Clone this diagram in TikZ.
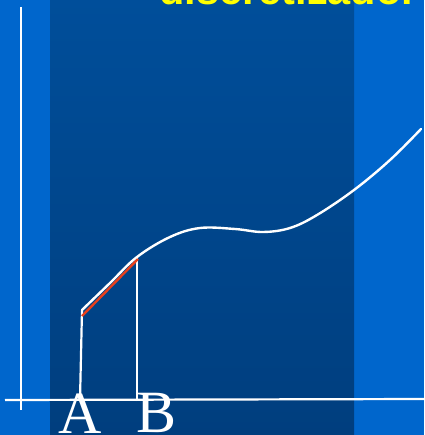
\documentclass[tikz,border=0pt]{standalone}
\usepackage{fontspec}
\newfontfamily\titlefont{Liberation Sans}
\newfontfamily\letterfont{Liberation Serif}
\definecolor{lightbg}{RGB}{0,102,204}
\definecolor{paneltop}{RGB}{0,78,154}
\definecolor{panelbot}{RGB}{0,62,126}
\definecolor{titleyellow}{RGB}{255,255,0}
\definecolor{chordred}{RGB}{232,64,28}
\tikzset{
  axisline/.style={draw=white, line width=2.2pt},
  curveline/.style={draw=white, line width=2.4pt, line cap=round},
  chordline/.style={draw=chordred, line width=2.4pt},
  ordline/.style={draw=white, line width=2.2pt},
  letterlabel/.style={text=white, font=\letterfont\fontsize{60}{60}\selectfont, inner sep=0pt, anchor=base},
  titlelabel/.style={text=titleyellow, font=\titlefont\bfseries\fontsize{41.5}{41.5}\selectfont, inner sep=0pt, anchor=base east}
}
\begin{document}
\begin{tikzpicture}[x=1pt, y=-1pt]
\useasboundingbox (0,0) rectangle (424,435);
\clip (0,0) rectangle (424,435);
\fill[lightbg] (0,0) rectangle (424,435);
\shade[top color=paneltop, bottom color=panelbot] (50,0) rectangle (354,435);
\node[titlelabel] (title) at (418,5) {discretizador};
% axes
\coordinate (yTop) at (21,7);
\coordinate (yBot) at (21,410);
\coordinate (xLeft) at (5,400);
\coordinate (xRight) at (424,399);
\draw[axisline] (yTop) -- (yBot);
\draw[axisline] (xLeft) -- (xRight);
% points
\coordinate (pA) at (82,310);
\coordinate (pB) at (137,257);
\coordinate (fA) at (80,400);
\coordinate (fB) at (137,401);
% ordinates
\draw[ordline] (fA) -- (pA);
\draw[ordline] (fB) -- (pB);
% curve
\draw[curveline] plot[smooth, tension=0.6] coordinates {(82,310) (110,283) (137,257) (170,237) (200,228) (235,229) (263,232) (290,228) (317,215) (354,190) (390,160) (421,129)};
% chord
\coordinate (cA) at (82,316);
\coordinate (cB) at (138,259);
\draw[chordline] (cA) -- (cB);
% labels
\node[letterlabel] (labA) at (80,433) {A};
\node[letterlabel] (labB) at (157,432) {B};
\end{tikzpicture}
\end{document}
